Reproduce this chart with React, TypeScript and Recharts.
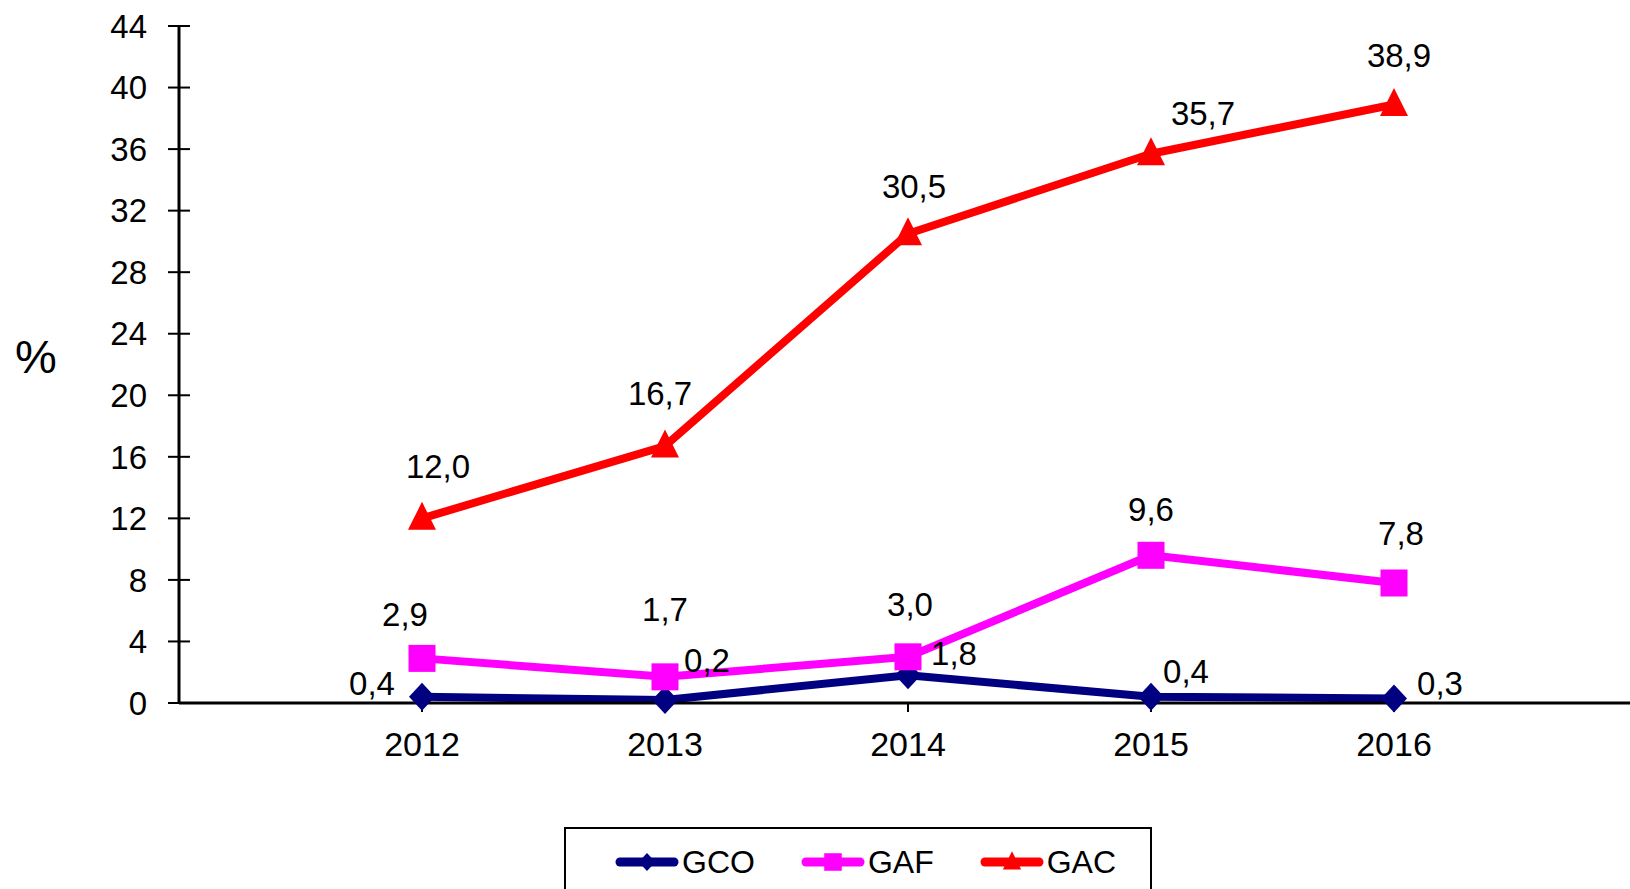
import React from "react";
import { LineChart, Line, XAxis, YAxis, LabelList } from "recharts";

const years = [2012, 2013, 2014, 2015, 2016];
const gco = [0.4, 0.2, 1.8, 0.4, 0.3];
const gaf = [2.9, 1.7, 3.0, 9.6, 7.8];
const gac = [12.0, 16.7, 30.5, 35.7, 38.9];
const yTicks = [0, 4, 8, 12, 16, 20, 24, 28, 32, 36, 40, 44];

// label nudges (px from the point), Excel had them dragged around
const gcoNudge = [[-50, -14], [42, -40], [46, -22], [35, -26], [46, -15]];
const gafNudge = [[-17, -44], [0, -68], [2, -53], [0, -46], [7, -50]];
const gacNudge = [[16, -52], [-5, -53], [6, -47], [52, -40], [5, -49]];

const FONT = '"Liberation Sans", Arial, sans-serif';

const data = years.map((year, i) => ({ year, gco: gco[i], gaf: gaf[i], gac: gac[i] }));

const series = [
  { key: "gco", name: "GCO", color: "#000080", shape: "diamond", nudge: gcoNudge },
  { key: "gaf", name: "GAF", color: "#FF00FF", shape: "square", nudge: gafNudge },
  { key: "gac", name: "GAC", color: "#FF0000", shape: "triangle", nudge: gacNudge },
];

const fmt = (v: number) => v.toFixed(1).replace(".", ",");

const Marker = ({ cx, cy, shape, color, s = 1 }: any) => {
  if (cx == null || cy == null) return null;
  if (shape === "diamond") {
    const w = 13 * s, h = 14 * s;
    return <polygon points={`${cx},${cy - h} ${cx + w},${cy} ${cx},${cy + h} ${cx - w},${cy}`} fill={color} />;
  }
  if (shape === "square") {
    const h = 13.5 * s;
    return <rect x={cx - h} y={cy - h} width={2 * h} height={2 * h} fill={color} />;
  }
  return (
    <polygon
      points={`${cx},${cy - 16.5 * s} ${cx + 14 * s},${cy + 11.5 * s} ${cx - 14 * s},${cy + 11.5 * s}`}
      fill={color}
    />
  );
};

const YTick = ({ x, y, payload }: any) => {
  const ax = x + 32;
  return (
    <g>
      <line x1={ax - 11} x2={ax + 11} y1={y} y2={y} stroke="#000" strokeWidth={2} />
      <text x={x} y={y} dy="0.355em" textAnchor="end" fontSize={33} fontFamily={FONT} fill="#000">
        {payload.value}
      </text>
    </g>
  );
};

const makeLabel = (nudge: number[][]) => (props: any) => {
  const { x, y, value, index } = props;
  const [dx, dy] = nudge[index] || [0, -40];
  return (
    <text
      x={x + dx}
      y={y + dy}
      dy="0.355em"
      textAnchor="middle"
      fontSize={33}
      fontFamily={FONT}
      fill="#000"
    >
      {fmt(value)}
    </text>
  );
};

const LegendBox = () => (
  <div
    style={{
      position: "absolute",
      left: 564,
      top: 827,
      width: 588,
      height: 100,
      border: "2px solid #000",
      boxSizing: "border-box",
      background: "#fff",
      display: "flex",
      alignItems: "flex-start",
      paddingLeft: 48,
      paddingTop: 16,
      fontFamily: FONT,
      fontSize: 32,
    }}
  >
    {series.map((s) => (
      <div key={s.key} style={{ display: "flex", alignItems: "center", marginRight: 45 }}>
        <svg width={66} height={34}>
          <line x1={6} x2={60} y1={17} y2={17} stroke={s.color} strokeWidth={9} strokeLinecap="round" />
          <Marker cx={33} cy={17} shape={s.shape} color={s.color} s={0.65} />
        </svg>
        <span style={{ marginLeft: 2, lineHeight: "34px" }}>{s.name}</span>
      </div>
    ))}
  </div>
);

export default function App() {
  return (
    <div
      style={{
        position: "absolute",
        left: 0,
        top: 0,
        width: 1630,
        height: 889,
        overflow: "hidden",
        background: "#fff",
      }}
    >
      <LineChart
        width={1630}
        height={889}
        data={data}
        margin={{ top: 26, right: -7, bottom: 126, left: 0 }}
      >
        <XAxis
          dataKey="year"
          type="number"
          domain={[2011, 2017]}
          ticks={years}
          axisLine={{ stroke: "#000", strokeWidth: 3 }}
          tickLine={{ stroke: "#000", strokeWidth: 2 }}
          tickSize={9}
          tickMargin={20}
          height={60}
          tick={{ fontSize: 34, fontFamily: FONT, fill: "#000" }}
        />
        <YAxis
          domain={[0, 44]}
          ticks={yTicks}
          width={179}
          axisLine={{ stroke: "#000", strokeWidth: 3 }}
          tickLine={false}
          tickSize={11}
          tickMargin={21}
          tick={<YTick />}
          interval={0}
        />
        {series.map((s) => (
          <Line
            key={s.key}
            dataKey={s.key}
            stroke={s.color}
            strokeWidth={8}
            strokeLinejoin="round"
            isAnimationActive={false}
            dot={(p: any) => <Marker key={`${s.key}-${p.index}`} cx={p.cx} cy={p.cy} shape={s.shape} color={s.color} />}
            activeDot={false}
          >
            <LabelList dataKey={s.key} content={makeLabel(s.nudge)} />
          </Line>
        ))}
      </LineChart>
      <div
        style={{
          position: "absolute",
          left: 36,
          top: 356,
          transform: "translate(-50%, -50%)",
          fontFamily: FONT,
          fontSize: 47,
          color: "#000",
        }}
      >
        %
      </div>
      <LegendBox />
    </div>
  );
}
